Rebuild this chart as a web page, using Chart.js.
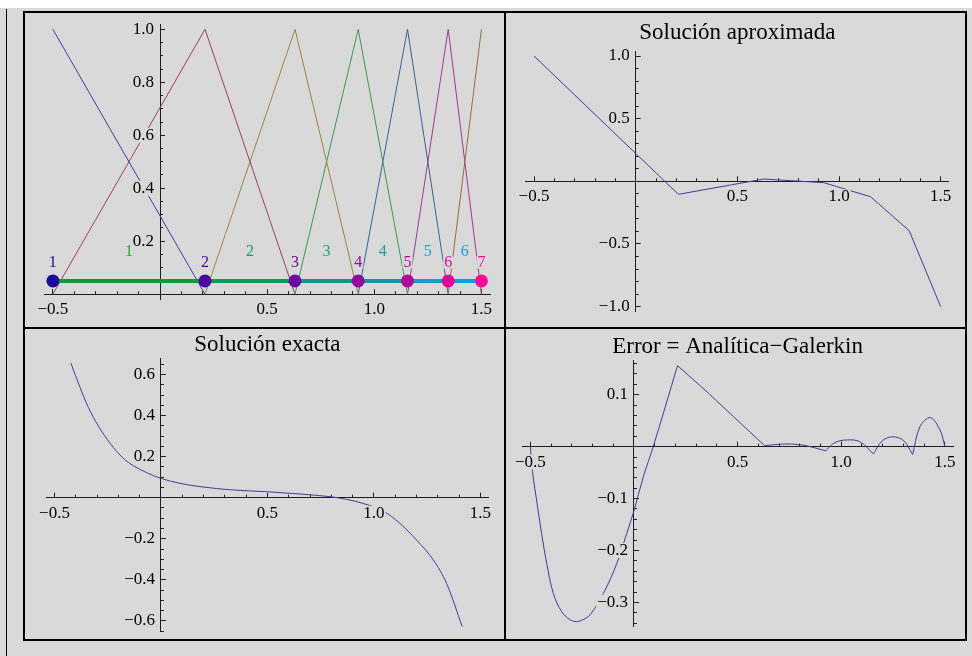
<!DOCTYPE html>
<html><head><meta charset="utf-8">
<script src="https://cdn.jsdelivr.net/npm/chart.js@4.4.0/dist/chart.umd.min.js"></script>
<style>
html,body{margin:0;padding:0;}
body{width:972px;height:656px;background:#d9d9d9;position:relative;overflow:hidden;}
#topstrip{position:absolute;left:0;top:0;width:972px;height:8px;background:#fff;}
#leftline{position:absolute;left:6px;top:9px;width:1px;height:647px;background:#000;}
#frame{position:absolute;left:23px;top:11px;width:940px;height:626px;border:2px solid #000;}
.vdiv{position:absolute;left:504px;top:11px;width:2px;height:630px;background:#000;}
.hdiv{position:absolute;left:23px;top:327px;width:944px;height:2px;background:#000;}
canvas{position:absolute;display:block;}
</style>
</head><body>
<div id="topstrip"></div>
<div id="leftline"></div>
<div id="frame"></div>
<div class="vdiv"></div>
<div class="hdiv"></div>
<canvas id="c1" width="479" height="314" style="left:25px;top:13px;width:479px;height:314px"></canvas>
<canvas id="c2" width="459" height="314" style="left:506px;top:13px;width:459px;height:314px"></canvas>
<canvas id="c3" width="479" height="310" style="left:25px;top:329px;width:479px;height:310px"></canvas>
<canvas id="c4" width="459" height="310" style="left:506px;top:329px;width:459px;height:310px"></canvas>
<script>
// ---------------- data ----------------
const nodes = [-0.5, 0.21, 0.63, 0.925, 1.155, 1.345, 1.5];
const nodeNames = ['1', '2', '3', '4', '5', '6', '7'];
const elementNames = ['1', '2', '3', '4', '5', '6'];
const barLevel = 0.05;

const approxValues = [1.0, -0.104, 0.018, -0.011, -0.123, -0.394, -1.0];

const exactX = [-0.423, -0.38, -0.341, -0.294, -0.239, -0.177, -0.13, -0.067, 0, 0.089, 0.183, 0.34, 0.5, 0.653, 0.794, 0.872, 0.943, 1.044, 1.122, 1.2, 1.279, 1.341, 1.415];
const exactY = [0.655, 0.537, 0.44, 0.349, 0.265, 0.192, 0.156, 0.122, 0.094, 0.07, 0.054, 0.0375, 0.029, 0.018, 0.005, -0.008, -0.026, -0.065, -0.125, -0.206, -0.303, -0.417, -0.628];

const errorX = [-0.5, -0.49, -0.47, -0.446, -0.421, -0.389, -0.349, -0.31, -0.277, -0.245, -0.212, -0.148, -0.083, -0.035, 0.001, 0.045, 0.093, 0.21, 0.319, 0.48, 0.63, 0.72, 0.8, 0.87, 0.925, 0.97, 1.03, 1.09, 1.155, 1.2, 1.25, 1.3, 1.345, 1.38, 1.43, 1.477, 1.5];
const errorY = [0.0, -0.048, -0.103, -0.167, -0.225, -0.283, -0.318, -0.333, -0.337, -0.333, -0.324, -0.283, -0.225, -0.167, -0.122, -0.058, 0, 0.156, 0.1176, 0.058, 0.002, 0.005, 0.004, -0.002, -0.008, 0.008, 0.013, 0.0096, -0.014, 0.012, 0.019, 0.012, -0.015, 0.0385, 0.056, 0.032, 0.001];

const xTicks = [-0.5, 0.5, 1.0, 1.5];
const xTickLabels = ['\u22120.5', '0.5', '1.0', '1.5'];
const basisYTicks = [0.2, 0.4, 0.6, 0.8, 1.0];
const basisYLabels = ['0.2', '0.4', '0.6', '0.8', '1.0'];
const approxYTicks = [-1.0, -0.5, 0.5, 1.0];
const approxYLabels = ['\u22121.0', '\u22120.5', '0.5', '1.0'];
const exactYTicks = [-0.6, -0.4, -0.2, 0.2, 0.4, 0.6];
const exactYLabels = ['\u22120.6', '\u22120.4', '\u22120.2', '0.2', '0.4', '0.6'];
const errorYTicks = [-0.3, -0.2, -0.1, 0.1];
const errorYLabels = ['\u22120.3', '\u22120.2', '\u22120.1', '0.1'];

const titles = ['Soluci\u00f3n aproximada', 'Soluci\u00f3n exacta', 'Error = Anal\u00edtica\u2212Galerkin'];

// ---------------- styles ----------------
const FONT = "'Liberation Serif', 'Times New Roman', serif";
const BG = '#d9d9d9';
const AXIS = '#1e1e1e';
const CURVE = '#3f3d99';
const hatColors = ['#3f3d99', '#993d70', '#99873d', '#3d9954', '#3d5f99', '#993d8f', '#996d3d'];
const nodeColors = ['#1e0a9a', '#470a9e', '#6a0aa0', '#900a9c', '#b00a9c', '#d80a9a', '#ff0a99'];
const elemColors = ['#0a9a3a', '#0a9a55', '#0a9a80', '#0a9aa0', '#0aa0c8', '#0aa0e6'];
const elemLabelColors = ['#22aa40', '#10a060', '#20a080', '#14a0a0', '#14a8cc', '#14a0e6'];

Chart.defaults.font.family = FONT;

function minorTicks(min, max, step, majors) {
  const out = [];
  const k0 = Math.ceil(min / step - 1e-9), k1 = Math.floor(max / step + 1e-9);
  for (let k = k0; k <= k1; k++) {
    const v = +(k * step).toFixed(6);
    if (Math.abs(v) < 1e-9) continue;
    if (majors.some(m => Math.abs(m - v) < 1e-9)) continue;
    out.push(v);
  }
  return out;
}

const tickFont = {family: FONT, size: 17, lineHeight: 1};

function zeroPad(s, horizontal) {
  if (horizontal) s.height = 0; else s.width = 0;
  s.paddingTop = 0; s.paddingBottom = 0; s.paddingLeft = 0; s.paddingRight = 0;
}

function makeScales(c) {
  const majorX = {
    type: 'linear', position: 'bottom', min: c.xMin, max: c.xMax, bounds: 'data',
    afterFit: s => zeroPad(s, true),
    afterBuildTicks: s => { s.ticks = c.xTicks.map(v => ({value: v})); },
    grid: {drawOnChartArea: false, drawTicks: true, tickLength: -5, color: AXIS, lineWidth: 1},
    border: {display: true, color: AXIS, width: 1},
    ticks: {autoSkip: false, maxRotation: 0, minRotation: 0, padding: 12, font: tickFont, color: '#000', z: 1,
      showLabelBackdrop: true, backdropColor: BG, backdropPadding: {top: -1, bottom: -1, left: 1, right: 1},
      callback: (v, i) => c.xLabels[i]}
  };
  const minorX = {
    type: 'linear', axis: 'x', position: 'bottom', min: c.xMin, max: c.xMax, bounds: 'data',
    afterFit: s => zeroPad(s, true),
    afterBuildTicks: s => { s.ticks = minorTicks(c.xMin, c.xMax, c.xStep, c.xTicks).map(v => ({value: v})); },
    grid: {drawOnChartArea: false, drawTicks: true, tickLength: -3, color: AXIS, lineWidth: 1},
    border: {display: false},
    ticks: {display: false}
  };
  const majorY = {
    type: 'linear', position: 'left', min: c.yMin, max: c.yMax, bounds: 'data',
    afterFit: s => zeroPad(s, false),
    afterBuildTicks: s => { s.ticks = c.yTicks.map(v => ({value: v})); },
    grid: {drawOnChartArea: false, drawTicks: true, tickLength: -5, color: AXIS, lineWidth: 1},
    border: {display: true, color: AXIS, width: 1},
    ticks: {autoSkip: false, padding: 11, font: tickFont, color: '#000', z: 1,
      showLabelBackdrop: true, backdropColor: BG, backdropPadding: {top: -1, bottom: -1, left: 1, right: 1},
      callback: (v, i) => c.yLabels[i]}
  };
  const minorY = {
    type: 'linear', axis: 'y', position: 'left', min: c.yMin, max: c.yMax, bounds: 'data',
    afterFit: s => zeroPad(s, false),
    afterBuildTicks: s => { s.ticks = minorTicks(c.yMin, c.yMax, c.yStep, c.yTicks).map(v => ({value: v})); },
    grid: {drawOnChartArea: false, drawTicks: true, tickLength: -3, color: AXIS, lineWidth: 1},
    border: {display: false},
    ticks: {display: false}
  };
  return {x: majorX, xm: minorX, y: majorY, ym: minorY};
}

// place the axes where the other coordinate is zero (Mathematica style)
const axesAtOrigin = {
  id: 'axesAtOrigin',
  afterLayout(chart) {
    const s = chart.scales;
    const y0 = s.y.getPixelForValue(0), x0 = s.x.getPixelForValue(0);
    ['x', 'xm'].forEach(id => { s[id].top = y0; s[id].bottom = chart.height; });
    ['y', 'ym'].forEach(id => { s[id].left = 0; s[id].right = x0; });
  }
};

const pointLabels = {
  id: 'pointLabels',
  afterDatasetsDraw(chart, args, opts) {
    const items = opts.items || [];
    if (!items.length) return;
    const {ctx} = chart, sx = chart.scales.x, sy = chart.scales.y;
    ctx.save();
    ctx.font = '16px ' + FONT;
    ctx.textAlign = 'center';
    ctx.textBaseline = 'middle';
    items.forEach(it => {
      const px = sx.getPixelForValue(it.x), py = sy.getPixelForValue(it.y);
      const w = ctx.measureText(it.text).width;
      ctx.fillStyle = BG;
      ctx.fillRect(px - w / 2 - 1, py - 6, w + 2, 12);
      ctx.fillStyle = it.color;
      ctx.fillText(it.text, px, py);
    });
    ctx.restore();
  }
};

function plot(id, c) {
  return new Chart(document.getElementById(id), {
    type: 'line',
    data: {datasets: c.datasets},
    options: {
      responsive: false, animation: false, events: [],
      layout: {padding: c.padding},
      elements: {point: {radius: 0}, line: {borderWidth: 1}},
      plugins: {
        legend: {display: false}, tooltip: {enabled: false},
        title: c.title ? {display: true, text: c.title, color: '#000',
          font: {family: FONT, size: 23, weight: 'normal', lineHeight: 1.2}, padding: c.titlePad} : {display: false},
        pointLabels: {items: c.labels || []}
      },
      scales: makeScales(c)
    },
    plugins: [axesAtOrigin, pointLabels]
  });
}

// ---------- chart 1 : basis functions ----------
const basisSets = [];
basisSets.push({
  data: nodes.map(x => ({x, y: barLevel})), showLine: false,
  pointRadius: 6.5, pointBackgroundColor: nodeColors, pointBorderWidth: 0
});
for (let i = 0; i < nodes.length - 1; i++) {
  basisSets.push({data: [{x: nodes[i], y: barLevel}, {x: nodes[i + 1], y: barLevel}],
    borderColor: elemColors[i], borderWidth: 4, borderCapStyle: 'butt'});
}
for (let i = 0; i < nodes.length; i++) {
  const pts = [];
  if (i > 0) pts.push({x: nodes[i - 1], y: 0});
  pts.push({x: nodes[i], y: 1});
  if (i < nodes.length - 1) pts.push({x: nodes[i + 1], y: 0});
  basisSets.push({data: pts, borderColor: hatColors[i], borderWidth: 1});
}
const basisLabels = [];
nodes.forEach((x, i) => basisLabels.push({x, y: 0.12, text: nodeNames[i], color: nodeColors[i]}));
elementNames.forEach((t, i) => basisLabels.push({x: (nodes[i] + nodes[i + 1]) / 2, y: 0.16, text: t, color: elemLabelColors[i]}));

plot('c1', {
  datasets: basisSets, labels: basisLabels,
  padding: {left: 19.3, right: 14, top: 11, bottom: 27.5},
  xMin: -0.54, xMax: 1.54, xStep: 0.1, xTicks, xLabels: xTickLabels,
  yMin: -0.02, yMax: 1.02, yStep: 0.05, yTicks: basisYTicks, yLabels: basisYLabels
});

// ---------- chart 2 : approximate solution ----------
plot('c2', {
  datasets: [{data: nodes.map((x, i) => ({x, y: approxValues[i]})), borderColor: CURVE, borderWidth: 1}],
  title: titles[0], titlePad: {top: 6.2, bottom: 4.2},
  padding: {left: 19.9, right: 16.2, top: 0, bottom: 15.4},
  xMin: -0.54, xMax: 1.54, xStep: 0.1, xTicks, xLabels: xTickLabels,
  yMin: -1.04, yMax: 1.04, yStep: 0.1, yTicks: approxYTicks, yLabels: approxYLabels
});

// ---------- chart 3 : exact solution ----------
plot('c3', {
  datasets: [{data: exactX.map((x, i) => ({x, y: exactY[i]})), borderColor: CURVE, borderWidth: 1,
    cubicInterpolationMode: 'monotone'}],
  title: titles[1], titlePad: {top: 1.7, bottom: 0.6},
  padding: {left: 21, right: 15.1, top: 0, bottom: 7.2},
  xMin: -0.54, xMax: 1.54, xStep: 0.1, xTicks, xLabels: xTickLabels,
  yMin: -0.653, yMax: 0.676, yStep: 0.05, yTicks: exactYTicks, yLabels: exactYLabels
});

// ---------- chart 4 : error ----------
const errSets = [];
for (let k = 0; k < nodes.length - 1; k++) {
  const pts = [];
  errorX.forEach((x, i) => { if (x >= nodes[k] - 1e-9 && x <= nodes[k + 1] + 1e-9) pts.push({x, y: errorY[i]}); });
  errSets.push({data: pts, borderColor: CURVE, borderWidth: 1, tension: 0.35});
}
plot('c4', {
  datasets: errSets,
  title: titles[2], titlePad: {top: 3.9, bottom: 0},
  padding: {left: 16.1, right: 11.9, top: 0, bottom: 12.2},
  xMin: -0.54, xMax: 1.54, xStep: 0.1, xTicks, xLabels: xTickLabels,
  yMin: -0.347, yMax: 0.166, yStep: 0.02, yTicks: errorYTicks, yLabels: errorYLabels
});
</script>
</body></html>
